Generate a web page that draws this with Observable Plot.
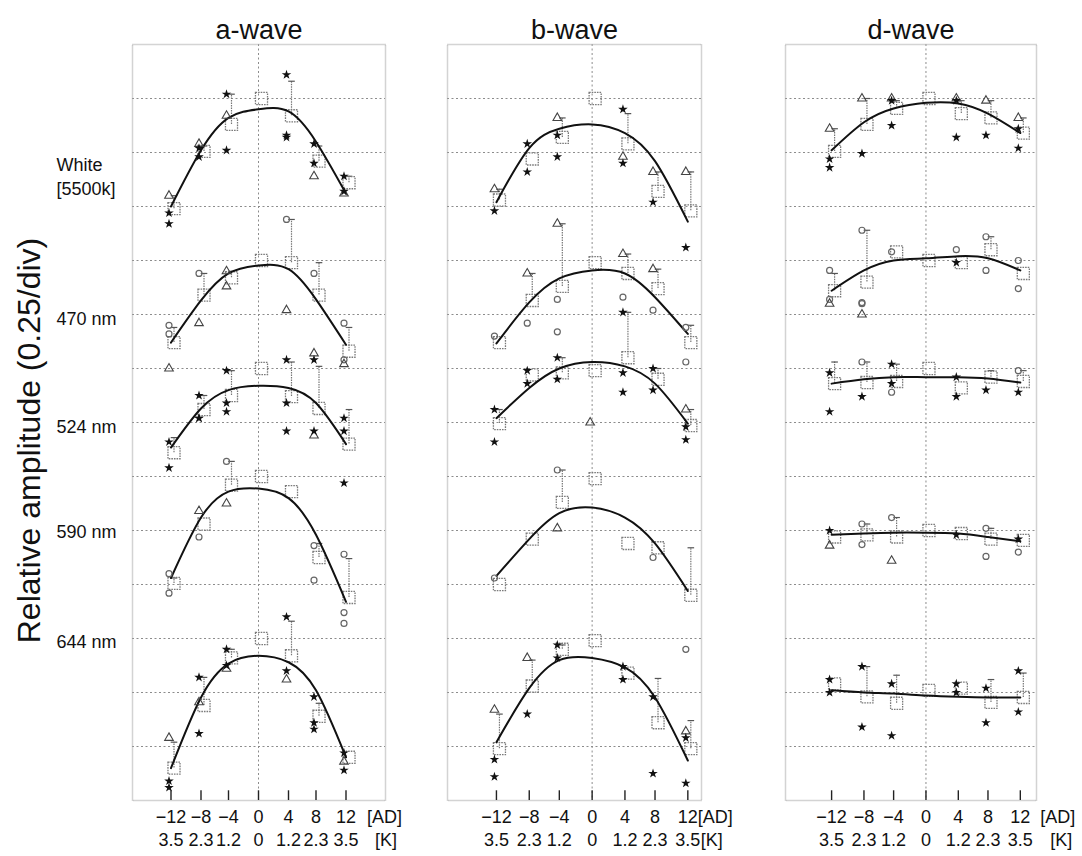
<!DOCTYPE html>
<html><head><meta charset="utf-8">
<script src="https://cdn.jsdelivr.net/npm/d3@7"></script>
<script src="https://cdn.jsdelivr.net/npm/@observablehq/plot@0.6"></script>
<style>
body{margin:0;background:#fff;}
#wrap{position:relative;width:1082px;height:856px;font-family:"Liberation Sans",Arial,sans-serif;}
#wrap > div{position:absolute;top:0;}
</style></head><body><div id="wrap"></div>
<script>
// ---- categories / tick labels ----
const waves = ["a-wave", "b-wave", "d-wave"];
const rows = ["White", "470 nm", "524 nm", "590 nm", "644 nm"];
const rowLabelText = ["White\n[5500k]", "470 nm", "524 nm", "590 nm", "644 nm"];
const kSigned = [-3.5, -2.3, -1.2, 0, 1.2, 2.3, 3.5];
const adLabels = ["\u221212", "\u22128", "\u22124", "0", "4", "8", "12"];
const kLabels = ["3.5", "2.3", "1.2", "0", "1.2", "2.3", "3.5"];

// ---- a-wave (relative amplitude, rows White..644) ----
const aMean = [
  [0.49, 0.755, 0.88, 1.0, 0.92, 0.71, 0.61],
  [0.62, 0.84, 0.92, 1.0, 0.99, 0.84, 0.58],
  [0.61, 0.81, 0.875, 1.0, 0.87, 0.815, 0.65],
  [0.505, 0.78, 0.96, 1.0, 0.93, 0.625, 0.44],
  [0.40, 0.69, 0.91, 1.0, 0.92, 0.64, 0.45]];
const aErr = [
  [0.55, 0.78, 1.02, null, 1.08, 0.78, 0.64],
  [0.69, 0.94, 0.95, null, 1.19, 0.99, 0.69],
  [0.68, 0.875, 0.99, null, 1.03, 1.01, 0.81],
  [0.53, null, 1.07, null, null, 0.69, 0.62],
  [0.52, 0.82, 0.95, null, 1.08, 0.70, null]];
const aFit = [
  [0.50, 0.76, 0.91, 0.95, 0.94, 0.80, 0.56],
  [0.62, 0.815, 0.94, 0.977, 0.96, 0.82, 0.61],
  [0.634, 0.815, 0.90, 0.92, 0.91, 0.84, 0.65],
  [0.53, 0.81, 0.93, 0.944, 0.90, 0.73, 0.42],
  [0.40, 0.727, 0.884, 0.92, 0.89, 0.76, 0.45]];
const aFilled = [
  [[0.47, 0.42], [0.77, 0.73], [1.02, 0.76], [], [1.11, 0.83, 0.82], [0.79, 0.70], [0.64, 0.57]],
  [],
  [[0.66, 0.54], [0.875, 0.77, 0.77], [0.99, 0.84, 0.80], [], [1.04, 0.84, 0.71], [1.04, 0.71], [0.77, 0.71, 0.47]],
  [],
  [[0.34, 0.31], [0.82, 0.56], [0.95, 0.875], [], [1.10, 0.85], [0.73, 0.58, 0.61], [0.47, 0.39]]];
const aTri = [
  [[0.55], [0.79], [0.92], [], [], [0.64], [0.56]],
  [[0.50], [0.71], [0.95, 0.88], [], [0.77], [], [0.52]],
  [[], [], [], [], [], [1.07, 0.69], []],
  [[], [0.84], [0.875], [], [], [], []],
  [[0.54], [0.705], [0.86], [], [0.81], [], [0.43]]];
const aOpen = [
  [],
  [[0.70, 0.66], [0.94], [], [], [1.19], [0.94], [0.71, 0.54]],
  [],
  [[0.46, 0.55], [0.72], [1.07], [], [], [0.68, 0.52], [0.64, 0.32, 0.37]],
  []];

// ---- b-wave ----
const bMean = [
  [0.53, 0.72, 0.82, 1.0, 0.79, 0.57, 0.48],
  [0.62, 0.815, 0.88, 0.99, 0.94, 0.87, 0.62],
  [0.745, 0.97, 0.98, 0.99, 1.05, 0.95, 0.736],
  [0.50, 0.71, 0.88, 0.99, 0.69, 0.67, 0.45],
  [0.49, 0.78, 0.95, 0.99, 0.84, 0.61, 0.49]];
const bErr = [
  [0.58, null, 0.91, null, 0.93, 0.66, 0.66],
  [null, 0.94, 1.17, null, 1.03, 0.96, 0.70],
  [0.81, null, 1.05, null, 1.26, 1.0, 0.81],
  [null, null, 1.03, null, null, null, 0.67],
  [0.65, 0.90, 0.97, null, null, 0.815, 0.62]];
const bFit = [
  [0.52, 0.77, 0.86, 0.88, 0.84, 0.71, 0.43],
  [0.616, 0.806, 0.917, 0.954, 0.94, 0.83, 0.66],
  [0.77, 0.91, 1.0, 1.03, 1.01, 0.93, 0.745],
  [0.54, 0.71, 0.83, 0.856, 0.81, 0.69, 0.47],
  [0.52, 0.77, 0.90, 0.91, 0.866, 0.727, 0.435]];
const bFilled = [
  [[0.48], [0.79, 0.66], [0.83, 0.73], [], [0.95, 0.70], [0.52], [0.31]],
  [],
  [[0.81, 0.66], [0.99, 0.93], [1.05, 0.95], [], [1.26, 0.98, 0.89], [1.0, 0.90], [0.73, 0.67]],
  [],
  [[0.44, 0.36], [0.65], [0.97, 0.91], [], [0.87, 0.81], [0.73, 0.375], [0.54, 0.33]]];
const bTri = [
  [[0.58], [], [0.91], [], [0.73], [0.66], [0.66]],
  [[], [0.94], [1.17], [], [1.03], [0.96], []],
  [[], [], [], [0.75], [], [], [0.81]],
  [[], [], [0.76], [], [], [], []],
  [[0.67], [0.91], [], [], [], [], [0.57]]];
const bOpen = [
  [],
  [[0.65], [0.71], [0.82, 0.67], [], [0.83], [0.77], [0.69, 0.53]],
  [],
  [[0.53], [], [1.03], [], [], [0.625], []],
  [[], [], [], [], [], [], [0.95]]];

// ---- d-wave ----
const dMean = [
  [0.755, 0.88, 0.954, 1.0, 0.93, 0.91, 0.84],
  [0.86, 0.90, 1.04, 1.0, 0.99, 1.05, 0.94],
  [0.93, 0.935, 0.94, 1.0, 0.91, 0.96, 0.94],
  [0.97, 0.98, 0.97, 1.0, 0.986, 0.96, 0.954],
  [1.04, 0.98, 0.95, 1.01, 1.02, 0.954, 0.977]];
const dErr = [
  [0.86, 1.0, 0.99, null, 0.99, 0.99, 0.91],
  [0.94, 1.14, null, null, null, 1.11, null],
  [1.03, 1.03, 1.02, null, null, 0.99, 0.99],
  [null, 1.03, 1.06, null, null, 1.01, null],
  [null, 1.12, 1.08, null, null, 1.06, 1.09]];
const dFit = [
  [0.76, 0.89, 0.954, 0.98, 0.977, 0.93, 0.84],
  [0.86, 0.954, 1.0, 1.01, 1.02, 1.01, 0.954],
  [0.93, 0.95, 0.96, 0.96, 0.96, 0.954, 0.935],
  [0.98, 0.986, 0.99, 0.99, 0.986, 0.97, 0.95],
  [1.01, 1.0, 0.995, 0.986, 0.98, 0.977, 0.977]];
const dFilled = [
  [[0.72, 0.68], [0.745], [0.99, 0.875], [], [0.99, 0.82], [0.83], [0.86, 0.77]],
  [[], [], [], [], [0.99], [], []],
  [[0.98, 0.80], [0.87], [1.02, 0.93], [], [0.96, 0.87], [0.90], [0.89]],
  [[1.0], [], [], [], [0.98], [], [0.96]],
  [[1.06, 1.0], [1.12, 0.84], [1.04, 0.80], [], [1.04, 1.0], [1.02, 0.86], [1.10, 0.91]]];
const dTri = [
  [[0.86], [1.0], [1.0], [], [1.0], [0.99], [0.91]],
  [[0.80], [0.75], [], [], [], [], []],
  [],
  [[0.93], [], [0.86], [], [], [], []],
  []];
const dOpen = [
  [],
  [[0.954, 0.82], [1.14, 0.805, 0.80], [1.04], [], [1.05], [1.11, 0.954], [1.0, 0.87]],
  [[], [1.03], [0.89], [], [], [], [0.99]],
  [[], [1.03, 0.935], [1.06], [], [], [1.01, 0.88], [0.90]],
  []];

// ---- layout (row baselines in 0.25/div units, panel geometry) ----
const offsetsAB = [2.25, 1.5, 1.0, 0.5, -0.25];
const offsetsD = [2.25, 1.5, 1.0, 0.25, -0.5];
const rowLabelY = [2.894, 2.236, 1.736, 1.25, 0.74];
const gridTicks = d3.range(0.25, 3.5, 0.25);

const capSymbol = {draw(ctx, size) { const r = Math.sqrt(size / Math.PI) * 1.1; ctx.moveTo(-r, 0); ctx.lineTo(r, 0); }};
const gray = "#8c8c8c";

function panel(cfg) {
  const {mean, err, fit, filled, tri, open, offsets} = cfg;
  const means = [], errs = [], fits = [], fil = [], tris = [], opens = [];
  const pick = (arr, r, i) => (arr[r] && arr[r][i]) || [];
  rows.forEach((row, r) => {
    kSigned.forEach((k, i) => {
      const o = offsets[r];
      means.push({x: k, y: mean[r][i] + o});
      if (err[r][i] != null) errs.push({x: k, y1: mean[r][i] + o, y2: err[r][i] + o});
      fits.push({row, x: k, y: fit[r][i] + o});
      pick(filled, r, i).forEach(v => fil.push({x: k, y: v + o}));
      pick(tri, r, i).forEach(v => tris.push({x: k, y: v + o}));
      pick(open, r, i).forEach(v => opens.push({x: k, y: v + o}));
    });
  });
  const marks = [
    Plot.gridY(gridTicks, {stroke: gray, strokeOpacity: 1, strokeDasharray: "2,2.5"}),
    Plot.ruleX([0], {stroke: gray, strokeDasharray: "2,2.5"}),
    Plot.frame({stroke: "#a8a8a8", strokeWidth: 1.5, strokeDasharray: "1,1"}),
    Plot.ruleX(kSigned, {x: d => d, y1: 0, y2: 0.045, stroke: "#222", strokeWidth: 1.4}),
    Plot.ruleX(errs, {x: "x", y1: "y1", y2: "y2", dx: 3, stroke: "#777", strokeWidth: 1.2, strokeDasharray: "1.5,1"}),
    Plot.dot(errs, {x: "x", y: "y2", dx: 3, symbol: capSymbol, r: 3, stroke: "#555", strokeWidth: 1.2}),
    Plot.dot(means, {x: "x", y: "y", dx: 3, symbol: "square", r: 6.8, fill: "none", stroke: "#7a7a7a", strokeWidth: 1.3, strokeDasharray: "1.6,1"}),
    Plot.line(fits, {x: "x", y: "y", z: "row", curve: "natural", stroke: "#111", strokeWidth: 2}),
    Plot.dot(opens, {x: "x", y: "y", dx: -2, symbol: "circle", r: 3, fill: "none", stroke: "#666", strokeWidth: 1.2}),
    Plot.dot(tris, {x: "x", y: "y", dx: -2, symbol: "triangle", r: 3.2, fill: "none", stroke: "#444", strokeWidth: 1.1}),
    Plot.dot(fil, {x: "x", y: "y", dx: -2, symbol: "star", r: 3, fill: "#111", stroke: "none"}),
    Plot.text([cfg.title], {frameAnchor: "top", dy: -25, fontSize: 27, fill: "#111"}),
    Plot.text(kSigned, {x: d => d, text: (d, i) => adLabels[i], frameAnchor: "bottom", dy: 22, fontSize: 18, fill: "#111"}),
    Plot.text(kSigned, {x: d => d, text: (d, i) => kLabels[i], frameAnchor: "bottom", dy: 45, fontSize: 18, fill: "#111"}),
    Plot.text(["[AD]"], {x: 3.5, frameAnchor: "bottom", dy: 22, dx: cfg.adDx, textAnchor: "start", fontSize: 18, fill: "#111"}),
    Plot.text(["[K]"], {x: 3.5, frameAnchor: "bottom", dy: 45, dx: cfg.kDx, textAnchor: "start", fontSize: 18, fill: "#111"})
  ];
  if (cfg.withRowLabels) {
    marks.push(
      Plot.text(rowLabelText, {y: (d, i) => rowLabelY[i], frameAnchor: "left", dx: -76, textAnchor: "start", fontSize: 18, lineHeight: 1.3, fill: "#111"}),
      Plot.text(["Relative amplitude (0.25/div)"], {frameAnchor: "left", dx: -103, dy: 18, rotate: -90, textAnchor: "middle", fontSize: 32, fill: "#111"})
    );
  }
  return Plot.plot({
    width: cfg.width, height: 856,
    marginLeft: cfg.marginLeft, marginRight: cfg.marginRight, marginTop: 44, marginBottom: 56,
    x: {domain: cfg.domain, axis: null},
    y: {domain: [0, 3.5], axis: null},
    style: {fontFamily: "'Liberation Sans', Arial, sans-serif", background: "transparent", overflow: "visible"},
    marks
  });
}

const panels = [
  {title: waves[0], left: 0, width: 420, marginLeft: 132, marginRight: 35, domain: [-5.04, 5.08], adDx: 21, kDx: 29,
   mean: aMean, err: aErr, fit: aFit, filled: aFilled, tri: aTri, open: aOpen, offsets: offsetsAB, withRowLabels: true},
  {title: waves[1], left: 420, width: 300, marginLeft: 27, marginRight: 19, domain: [-5.29, 4.0], adDx: 10, kDx: 13,
   mean: bMean, err: bErr, fit: bFit, filled: bFilled, tri: bTri, open: bOpen, offsets: offsetsAB},
  {title: waves[2], left: 730, width: 352, marginLeft: 55, marginRight: 46, domain: [-5.21, 4.1], adDx: 20, kDx: 30,
   mean: dMean, err: dErr, fit: dFit, filled: dFilled, tri: dTri, open: dOpen, offsets: offsetsD}
];

const wrap = document.getElementById("wrap");
for (const cfg of panels) {
  const div = document.createElement("div");
  div.style.left = cfg.left + "px";
  div.appendChild(panel(cfg));
  wrap.appendChild(div);
}
</script></body></html>
